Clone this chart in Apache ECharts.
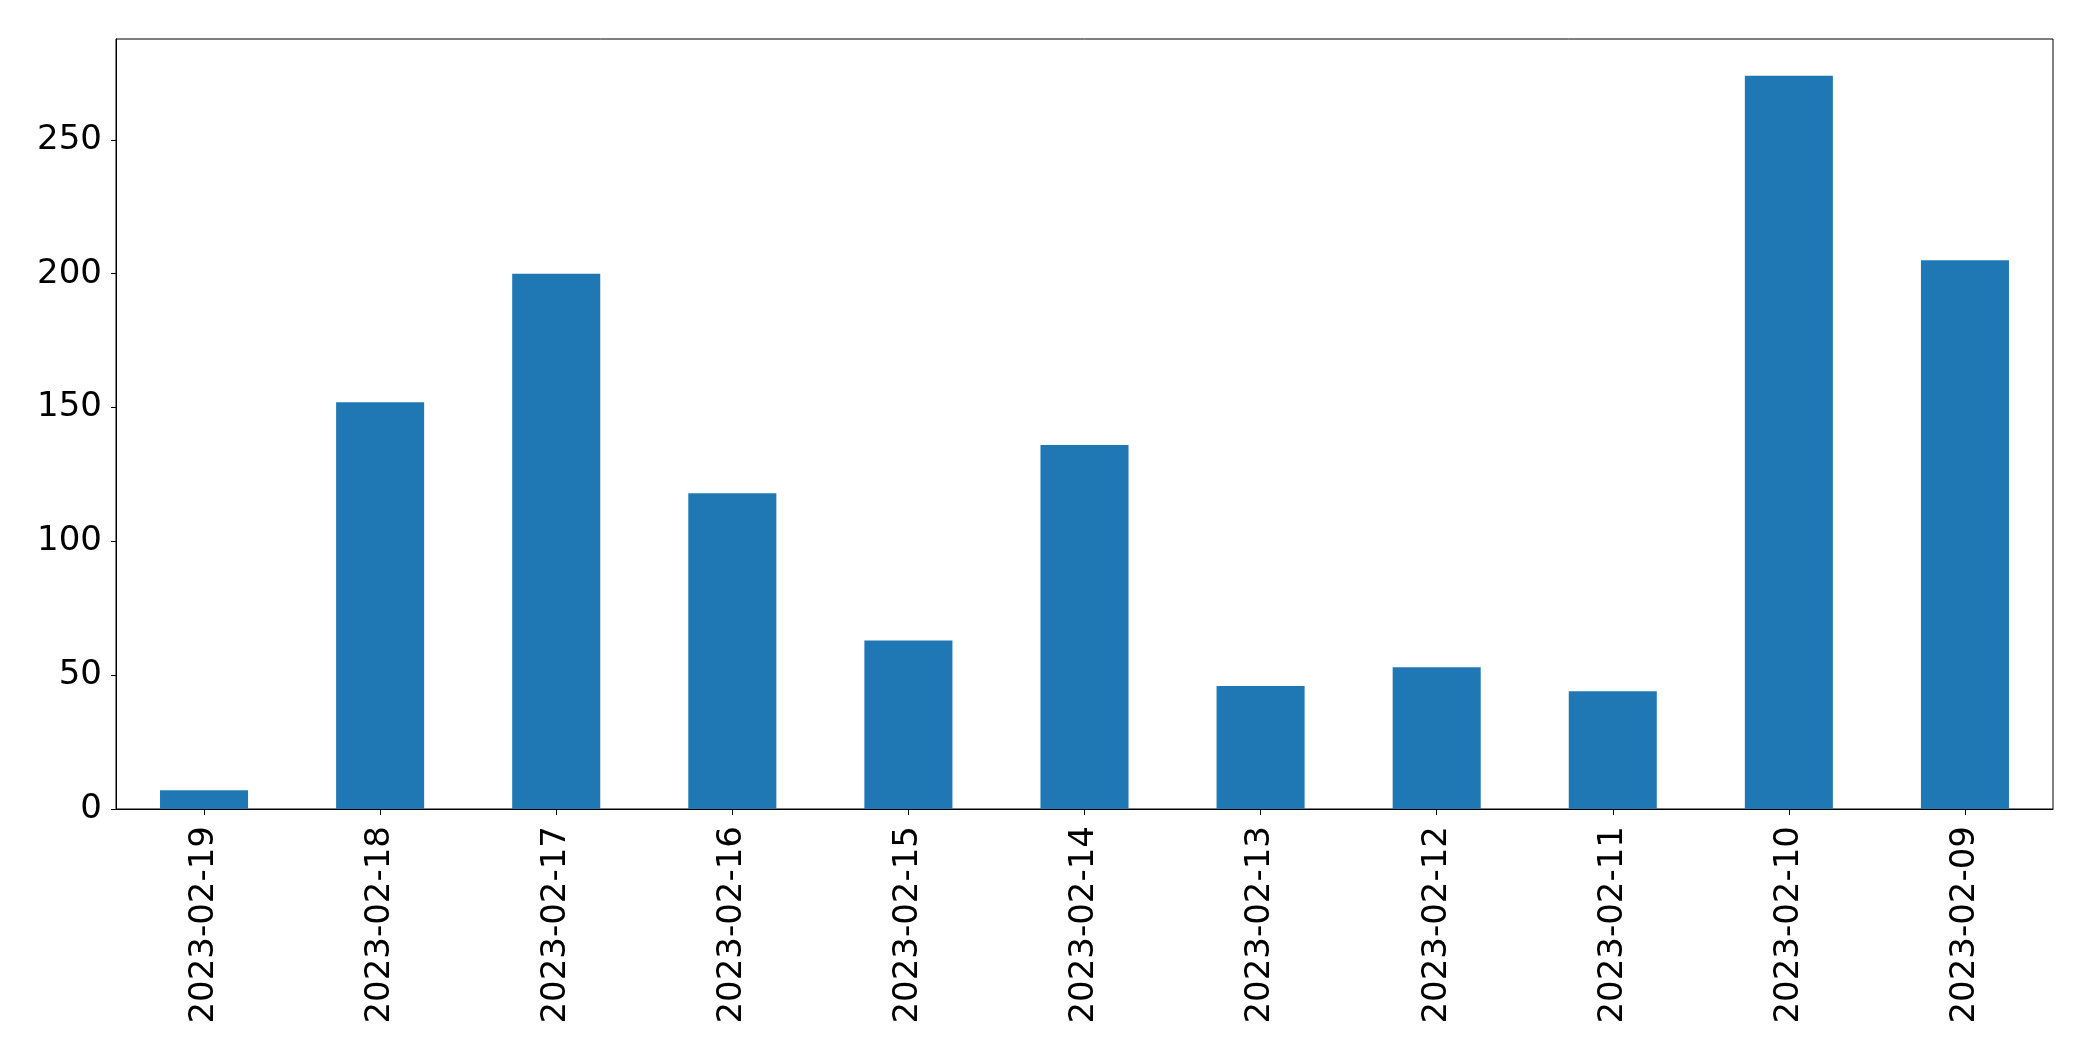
<!DOCTYPE html>
<html>
<head>
<meta charset="utf-8">
<script src="https://cdn.jsdelivr.net/npm/echarts@6/dist/echarts.min.js"></script>
<style>
html,body{margin:0;padding:0;background:#fff;}
#chart{width:2093px;height:1061px;}
</style>
</head>
<body>
<div id="chart"></div>
<script>
const categories = ['2023-02-19','2023-02-18','2023-02-17','2023-02-16','2023-02-15','2023-02-14','2023-02-13','2023-02-12','2023-02-11','2023-02-10','2023-02-09'];
const values = [7, 152, 200, 118, 63, 136, 46, 53, 44, 274, 205];
const yTicks = [0, 50, 100, 150, 200, 250];

const chart = echarts.init(document.getElementById('chart'), null, {renderer: 'canvas'});
const font = 'DejaVu Sans';
chart.setOption({
  animation: false,
  backgroundColor: '#ffffff',
  grid: {
    left: 116, right: 40, top: 39, bottom: 252,
    show: true, borderColor: '#000', borderWidth: 1, backgroundColor: 'transparent'
  },
  xAxis: {
    type: 'category',
    data: categories,
    boundaryGap: true,
    axisLine: {show: true, lineStyle: {color: '#000', width: 1}},
    axisTick: {show: true, alignWithLabel: true, length: 6, lineStyle: {color: '#000', width: 1}},
    axisLabel: {rotate: 90, margin: 17, color: '#000', fontFamily: font, fontSize: 34, interval: 0},
    splitLine: {show: false}
  },
  yAxis: {
    type: 'value',
    min: 0,
    max: 287.7,
    interval: 50,
    axisLine: {show: true, lineStyle: {color: '#000', width: 1}},
    axisTick: {show: true, length: 5, lineStyle: {color: '#000', width: 1}, customValues: yTicks},
    axisLabel: {margin: 14, color: '#000', fontFamily: font, fontSize: 34, customValues: yTicks},
    splitLine: {show: false}
  },
  series: [{
    type: 'bar',
    data: values,
    barWidth: '50%',
    itemStyle: {color: '#1f77b4'}
  }]
});
</script>
</body>
</html>
